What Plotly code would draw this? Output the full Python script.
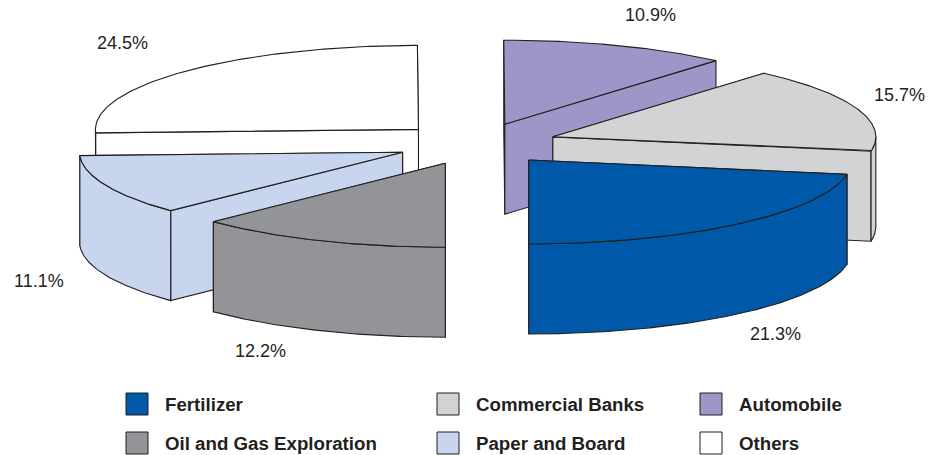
import math
import plotly.graph_objects as go

# Shares shown on the chart, listed counter-clockwise from the front of the pie.
SECTORS = ["Fertilizer", "Commercial Banks", "Automobile", "Others", "Paper and Board", "Oil and Gas Exploration"]
SHARES = [21.3, 15.7, 10.9, 24.5, 11.1, 12.2]
FILLS = ["#0059A8", "#D1D3D4", "#9E96C8", "#FFFFFF", "#C7D5EE", "#929497"]

# Legend rows and columns
LEGEND_ROWS = [["Fertilizer", "Commercial Banks", "Automobile"],
               ["Oil and Gas Exploration", "Paper and Board", "Others"]]
LEGEND_SWATCH_X = [126, 437, 700]
LEGEND_ROW_Y = [404, 443]
SWATCH = 22
LEGEND_TEXT_GAP = 36.7

# Percent label centres, in sector order
LABEL_XY = [(775, 334), (899, 95), (650, 15), (122.5, 43), (38.5, 280.5), (260, 351)]

# Projection of the pie
WIDTH, HEIGHT = 935, 455
CX, CY = 476.8, 143.9
RX, RY = 323, 84
DEPTH = 90
EXPLODE = 0.25
LINE = "#231F20"
FONT = "Liberation Sans"


def project(cx, cy, angle):
    """Rim point at an angle measured from the front of the pie towards the right."""
    return cx + RX * math.sin(angle), cy + RY * math.cos(angle)


def arc(cx, cy, a0, a1, steps=120):
    return [project(cx, cy, a0 + (a1 - a0) * i / steps) for i in range(steps + 1)]


fig = go.Figure()


def add_face(points, color, name):
    xs = [p[0] for p in points] + [points[0][0]]
    ys = [p[1] for p in points] + [points[0][1]]
    fig.add_trace(go.Scatter(x=xs, y=ys, mode="lines", fill="toself", fillcolor=color,
                             line=dict(color=LINE, width=1.1), name=name,
                             hoverinfo="name", showlegend=False))


def lower(points):
    return [(x, y + DEPTH) for x, y in points]


total = sum(SHARES)
spans = []
start = 0.0
for share in SHARES:
    sweep = share / total * 2 * math.pi
    spans.append((start, start + sweep))
    start += sweep

# Painter's order: slices further back first.
for i in sorted(range(len(SHARES)), key=lambda k: math.cos(sum(spans[k]) / 2)):
    a0, a1 = spans[i]
    mid = (a0 + a1) / 2
    cx, cy = project(CX, CY, mid)
    cx = CX + (cx - CX) * EXPLODE
    cy = CY + (cy - CY) * EXPLODE
    apex = (cx, cy)

    # Cut faces, the one reaching further back first.
    for a in sorted((a0, a1), key=lambda v: math.cos(v)):
        rim = project(cx, cy, a)
        add_face([apex, rim, (rim[0], rim[1] + DEPTH), (apex[0], apex[1] + DEPTH)], FILLS[i], SECTORS[i])

    # Outer wall, only where it faces the viewer.
    pieces = []
    for w0, w1 in ((0, math.pi / 2), (3 * math.pi / 2, 2 * math.pi)):
        p0, p1 = max(a0, w0), min(a1, w1)
        if p1 > p0:
            pieces.append((p0, p1))
    for p0, p1 in pieces:
        edge = arc(cx, cy, p0, p1)
        add_face(edge + lower(edge)[::-1], FILLS[i], SECTORS[i])

    # Top face
    add_face([apex] + arc(cx, cy, a0, a1), FILLS[i], SECTORS[i])

annotations = []
for share, (x, y) in zip(SHARES, LABEL_XY):
    annotations.append(dict(x=x, y=y, text=f"{share}%", showarrow=False, xanchor="center", yanchor="middle",
                            font=dict(family=FONT, size=18, color=LINE)))

shapes = []
for row, y in zip(LEGEND_ROWS, LEGEND_ROW_Y):
    for name, x in zip(row, LEGEND_SWATCH_X):
        shapes.append(dict(type="rect", x0=x, x1=x + SWATCH, y0=y - SWATCH / 2, y1=y + SWATCH / 2,
                           fillcolor=FILLS[SECTORS.index(name)], line=dict(color=LINE, width=1)))
        annotations.append(dict(x=x + LEGEND_TEXT_GAP, y=y, text=f"<b>{name}</b>", showarrow=False,
                                xanchor="left", yanchor="middle",
                                font=dict(family=FONT, size=18.7, color=LINE)))

fig.update_layout(
    width=WIDTH, height=HEIGHT, margin=dict(l=0, r=0, t=0, b=0),
    paper_bgcolor="white", plot_bgcolor="white", showlegend=False,
    xaxis=dict(range=[0, WIDTH], visible=False, fixedrange=True),
    yaxis=dict(range=[HEIGHT, 0], visible=False, fixedrange=True),
    annotations=annotations, shapes=shapes,
)

fig.write_html("out.html", config=dict(displayModeBar=False))
